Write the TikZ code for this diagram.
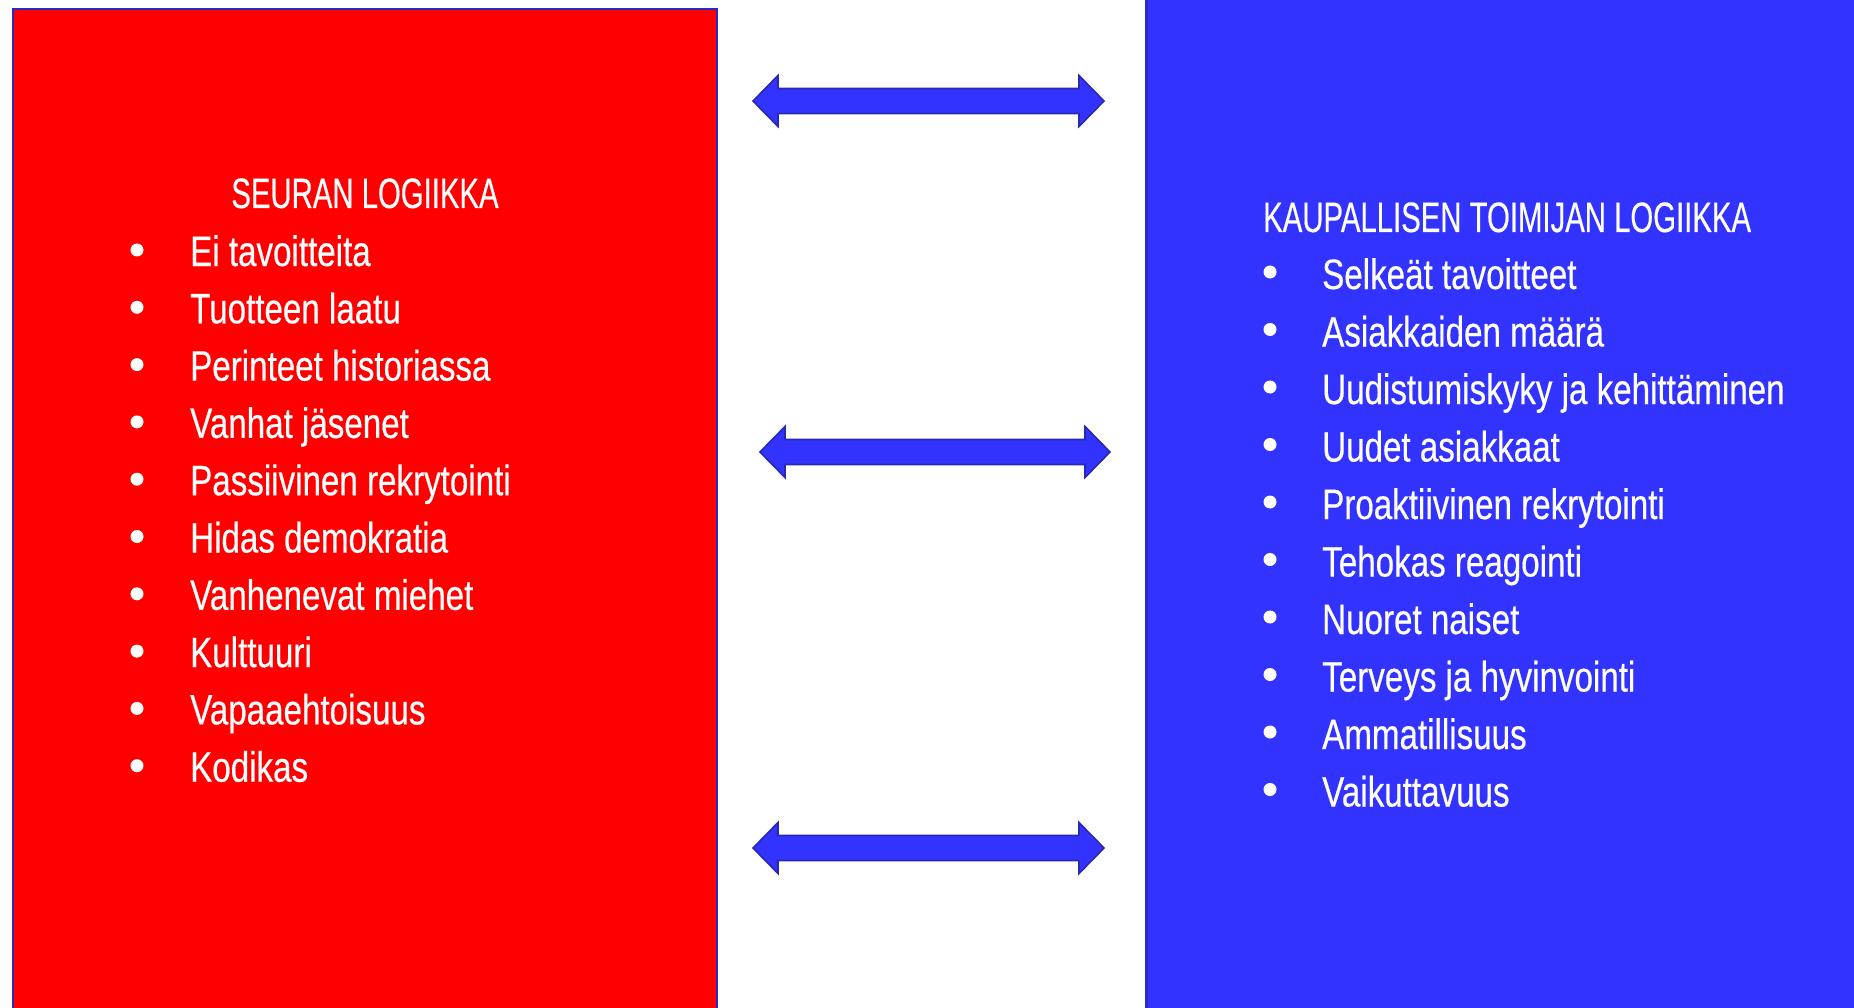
\documentclass[tikz,border=0pt]{standalone}
\usepackage{fontspec}
\newfontfamily\titlefont[FakeStretch=0.69,FakeBold=0.4]{Liberation Sans}
\newfontfamily\itemfont[FakeStretch=0.78,FakeBold=0.4]{Liberation Sans}
\definecolor{redbox}{HTML}{FF0000}
\definecolor{bluebox}{HTML}{3333FF}
\definecolor{edgeblue}{HTML}{2A2AC0}
\definecolor{arrowedge}{HTML}{2828B4}
\begin{document}
\begin{tikzpicture}[x=1pt,y=-1pt,
  titletext/.style={text=white, inner sep=0pt, font=\titlefont\fontsize{42.5}{50}\selectfont},
  itemtext/.style={text=white, inner sep=0pt, anchor=base west, font=\itemfont\fontsize{42.5}{50}\selectfont},
  bulletdot/.style={circle, fill=white, inner sep=0pt, minimum size=13pt},
  twoway/.style={fill=bluebox, draw=arrowedge, line width=1.6pt, line join=miter}]
\useasboundingbox (0,0) rectangle (1854,1008);
\path[fill=white] (0,0) rectangle (1854,1008);
% boxes
\draw[fill=redbox, draw=edgeblue, line width=2pt] (13,9) rectangle (717,1015);
\draw[fill=bluebox, draw=edgeblue, line width=3pt] (1146.5,-5) rectangle (1860,1015);
% double arrows
\foreach \xa/\xb/\yc in {753/1104/101, 760/1110/452, 753/1104/848} {
  \draw[twoway] (\xa,\yc) -- (\xa+25,\yc-25.5) -- (\xa+25,\yc-12.5) -- (\xb-25,\yc-12.5)
    -- (\xb-25,\yc-25.5) -- (\xb,\yc) -- (\xb-25,\yc+25.5) -- (\xb-25,\yc+12.5)
    -- (\xa+25,\yc+12.5) -- (\xa+25,\yc+25.5) -- cycle;
}
% titles
\node[titletext, anchor=base] (ltitle) at (365,208) {SEURAN LOGIIKKA};
\node[titletext, anchor=base west] (rtitle) at (1263,232) {KAUPALLISEN TOIMIJAN LOGIIKKA};
% left list
\foreach \t [count=\i from 0] in {Ei tavoitteita, Tuotteen laatu, Perinteet historiassa, Vanhat jäsenet, Passiivinen rekrytointi, Hidas demokratia, Vanhenevat miehet, Kulttuuri, Vapaaehtoisuus, Kodikas} {
  \node[bulletdot] (lb\i) at (137, 250+57.3*\i) {};
  \node[itemtext] (li\i) at (190, 266+57.3*\i) {\t};
}
% right list
\foreach \t [count=\i from 0] in {Selkeät tavoitteet, Asiakkaiden määrä, Uudistumiskyky ja kehittäminen, Uudet asiakkaat, Proaktiivinen rekrytointi, Tehokas reagointi, Nuoret naiset, Terveys ja hyvinvointi, Ammatillisuus, Vaikuttavuus} {
  \node[bulletdot] (rb\i) at (1270, 272+57.5*\i) {};
  \node[itemtext] (ri\i) at (1322, 289+57.5*\i) {\t};
}
\end{tikzpicture}
\end{document}
